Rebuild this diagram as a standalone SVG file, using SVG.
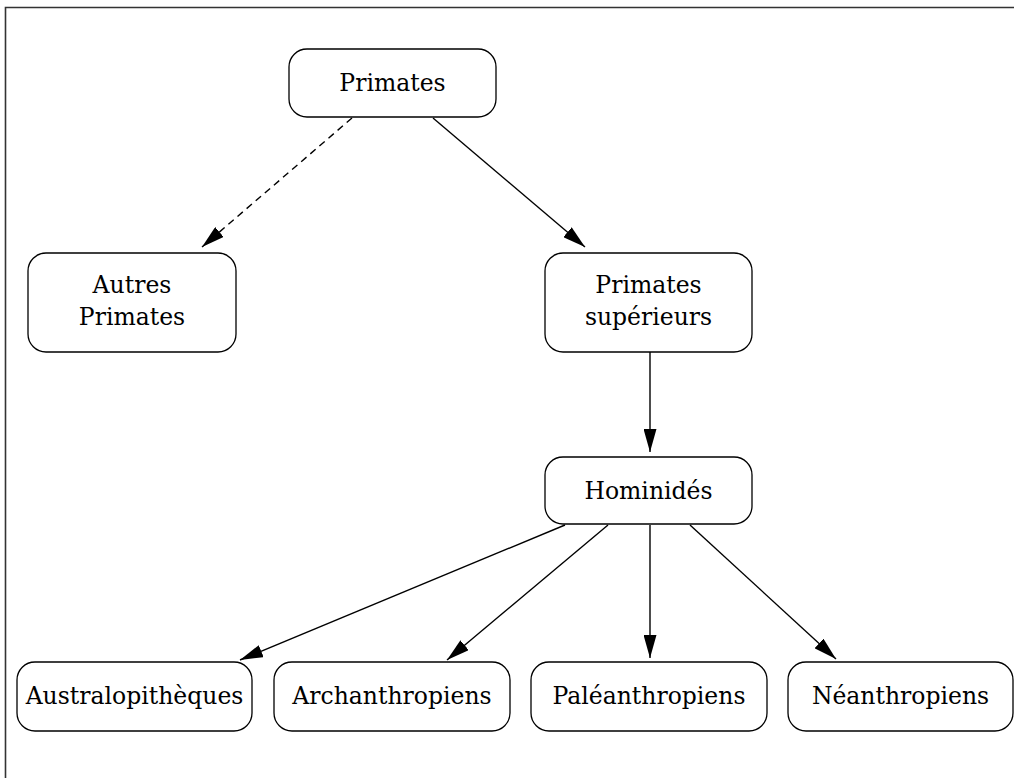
<svg xmlns="http://www.w3.org/2000/svg" width="1014" height="778" viewBox="0 0 1014 778">
<style>
.box{fill:#fff;stroke:#000;stroke-width:1.3}
.lbl{font-family:"DejaVu Serif","Liberation Serif",serif;font-size:23.5px;fill:#000;text-anchor:middle}
.edge{stroke:#000;stroke-width:1.4;fill:none;marker-end:url(#ah)}
.dash{stroke-dasharray:7,5}
</style>
<defs>
<marker id="ah" markerUnits="userSpaceOnUse" markerWidth="23" markerHeight="13" refX="23" refY="6.5" orient="auto">
<path d="M0,0 L23,6.5 L0,13 Z" fill="#000"/>
</marker>
</defs>
<rect width="1014" height="778" fill="#fff"/>
<path d="M5.5,778 V7.5 H1014" fill="none" stroke="#333" stroke-width="1.6"/>
<g id="connectors">
<line class="edge dash" x1="352" y1="118" x2="202" y2="247"/>
<line class="edge" x1="433" y1="118" x2="585" y2="247"/>
<line class="edge" x1="650" y1="352" x2="650" y2="452"/>
<line class="edge" x1="565" y1="525" x2="240" y2="660"/>
<line class="edge" x1="608" y1="525" x2="447" y2="660"/>
<line class="edge" x1="650" y1="525" x2="650" y2="658"/>
<line class="edge" x1="690" y1="525" x2="836" y2="659"/>
</g>
<g id="n-primates"><rect class="box" x="289" y="49" width="207" height="68" rx="18"/><text class="lbl" x="392.5" y="91">Primates</text></g>
<g id="n-autres"><rect class="box" x="28" y="253" width="208" height="99" rx="18"/><text class="lbl" x="132" y="293">Autres</text><text class="lbl" x="132" y="325">Primates</text></g>
<g id="n-superieurs"><rect class="box" x="545" y="253" width="207" height="99" rx="18"/><text class="lbl" x="648.5" y="293">Primates</text><text class="lbl" x="648.5" y="325">supérieurs</text></g>
<g id="n-hominides"><rect class="box" x="545" y="457" width="207" height="67" rx="18"/><text class="lbl" x="648.5" y="499">Hominidés</text></g>
<g id="n-australo"><rect class="box" x="17" y="662" width="235" height="69" rx="18"/><text class="lbl" x="134.5" y="704">Australopithèques</text></g>
<g id="n-archan"><rect class="box" x="274" y="662" width="236" height="69" rx="18"/><text class="lbl" x="392" y="704">Archanthropiens</text></g>
<g id="n-paleo"><rect class="box" x="531" y="662" width="236" height="69" rx="18"/><text class="lbl" x="649" y="704">Paléanthropiens</text></g>
<g id="n-neo"><rect class="box" x="788" y="662" width="225" height="69" rx="18"/><text class="lbl" x="900.5" y="704">Néanthropiens</text></g>
</svg>
